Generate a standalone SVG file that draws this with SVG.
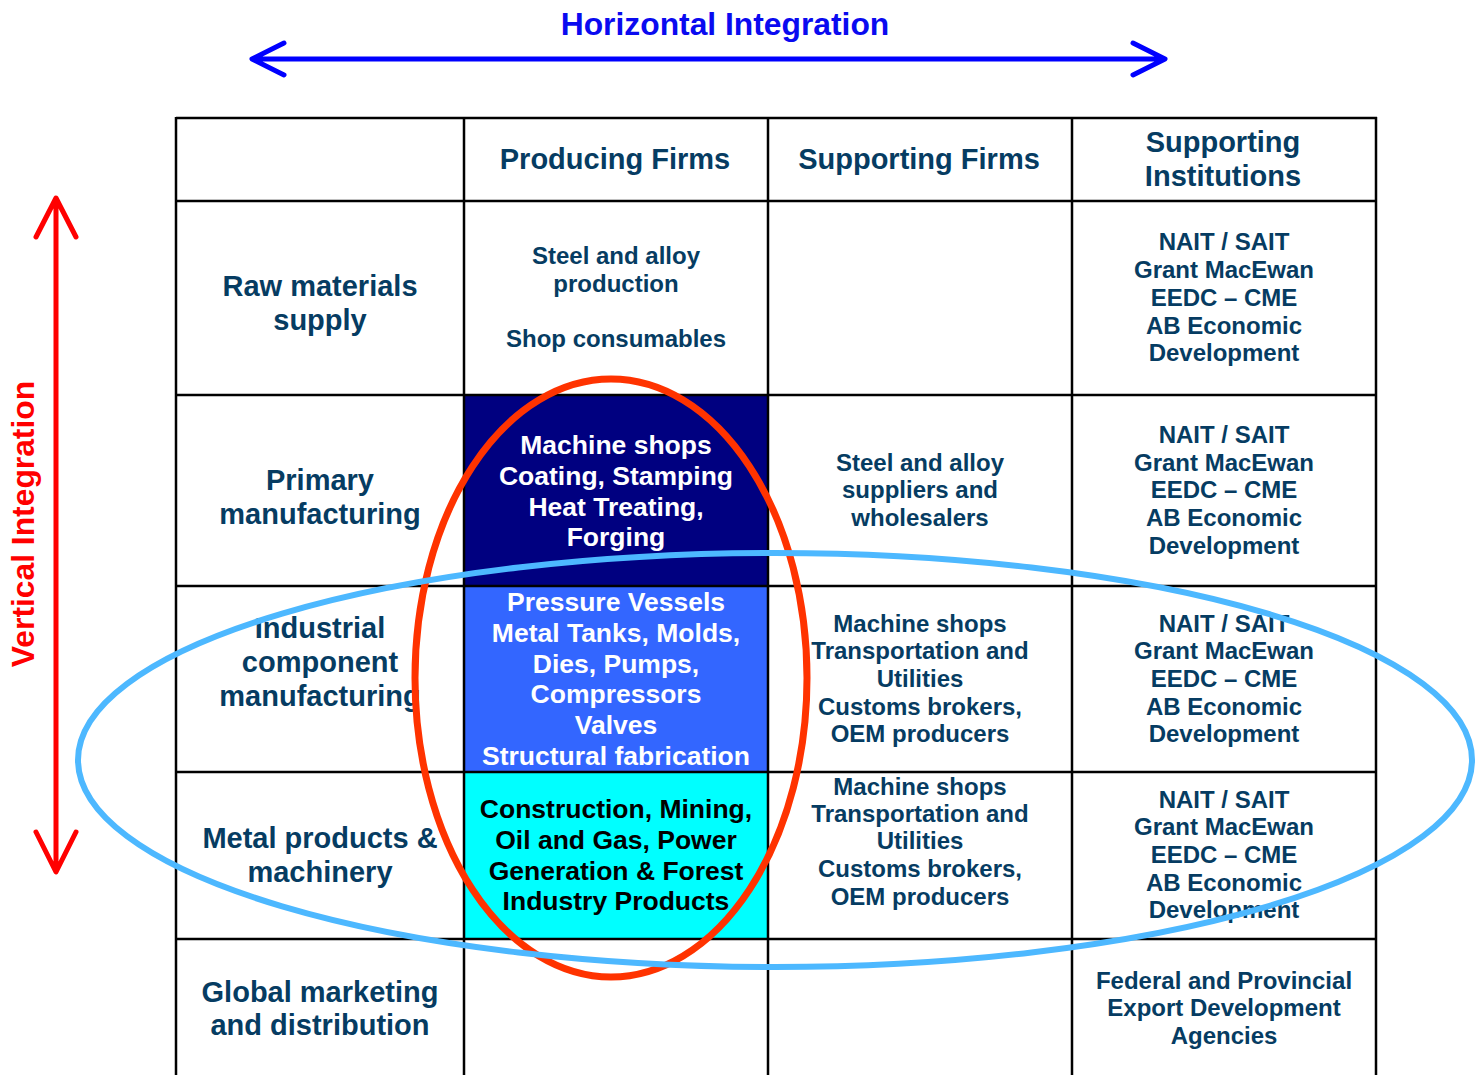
<svg xmlns="http://www.w3.org/2000/svg" width="1484" height="1075" viewBox="0 0 1484 1075">
<style>
text{font-family:"Liberation Sans",Arial,sans-serif;font-weight:bold;text-anchor:middle}
.hd{font-size:29px;fill:#063C62}
.rl{font-size:29px;fill:#063C62}
.ct{font-size:24px;fill:#063C62}
.wt{font-size:26.5px;fill:#FFFFFF}
.bk{font-size:26.5px;fill:#000000}
.grid line{stroke:#000;stroke-width:2.5}
</style>
<rect width="1484" height="1075" fill="#fff"/>
<g id="cell-fills">
<rect x="464" y="395" width="304" height="191" fill="#000080"/>
<rect x="464" y="586" width="304" height="186" fill="#3366FF"/>
<rect x="464" y="772" width="304" height="167" fill="#00FFFF"/>
</g>
<g id="grid" class="grid">
<line x1="176" y1="118" x2="1377" y2="118"/>
<line x1="176" y1="201" x2="1377" y2="201"/>
<line x1="176" y1="395" x2="1377" y2="395"/>
<line x1="176" y1="586" x2="1377" y2="586"/>
<line x1="176" y1="772" x2="1377" y2="772"/>
<line x1="176" y1="939" x2="1377" y2="939"/>
<line x1="176" y1="117" x2="176" y2="1075"/>
<line x1="464" y1="117" x2="464" y2="1075"/>
<line x1="768" y1="117" x2="768" y2="1075"/>
<line x1="1072" y1="117" x2="1072" y2="1075"/>
<line x1="1376" y1="117" x2="1376" y2="1075"/>
</g>
<g id="headers">
<text class="hd" x="615" y="169">Producing Firms</text>
<text class="hd" x="919" y="169">Supporting Firms</text>
<text class="hd" x="1223" y="152">Supporting</text>
<text class="hd" x="1223" y="186">Institutions</text>
</g>
<g id="row-labels">
<text class="rl" x="320" y="296">Raw materials</text>
<text class="rl" x="320" y="330">supply</text>
<text class="rl" x="320" y="490">Primary</text>
<text class="rl" x="320" y="524">manufacturing</text>
<text class="rl" x="320" y="638">Industrial</text>
<text class="rl" x="320" y="672">component</text>
<text class="rl" x="320" y="706">manufacturing</text>
<text class="rl" x="320" y="848">Metal products &amp;</text>
<text class="rl" x="320" y="882">machinery</text>
<text class="rl" x="320" y="1002">Global marketing</text>
<text class="rl" x="320" y="1035">and distribution</text>
</g>
<g id="producing-firms">
<text class="ct" x="616" y="264">Steel and alloy</text>
<text class="ct" x="616" y="292">production</text>
<text class="ct" x="616" y="347">Shop consumables</text>
<text class="wt" x="616" y="454">Machine shops</text>
<text class="wt" x="616" y="485">Coating, Stamping</text>
<text class="wt" x="616" y="516">Heat Treating,</text>
<text class="wt" x="616" y="546">Forging</text>
<text class="wt" x="616" y="611">Pressure Vessels</text>
<text class="wt" x="616" y="642">Metal Tanks, Molds,</text>
<text class="wt" x="616" y="673">Dies, Pumps,</text>
<text class="wt" x="616" y="703">Compressors</text>
<text class="wt" x="616" y="734">Valves</text>
<text class="wt" x="616" y="765">Structural fabrication</text>
<text class="bk" x="616" y="818">Construction, Mining,</text>
<text class="bk" x="616" y="849">Oil and Gas, Power</text>
<text class="bk" x="616" y="880">Generation &amp; Forest</text>
<text class="bk" x="616" y="910">Industry Products</text>
</g>
<g id="supporting-firms">
<text class="ct" x="920" y="471">Steel and alloy</text>
<text class="ct" x="920" y="498">suppliers and</text>
<text class="ct" x="920" y="526">wholesalers</text>
<text class="ct" x="920" y="632">Machine shops</text>
<text class="ct" x="920" y="659">Transportation and</text>
<text class="ct" x="920" y="687">Utilities</text>
<text class="ct" x="920" y="715">Customs brokers,</text>
<text class="ct" x="920" y="742">OEM producers</text>
<text class="ct" x="920" y="795">Machine shops</text>
<text class="ct" x="920" y="822">Transportation and</text>
<text class="ct" x="920" y="849">Utilities</text>
<text class="ct" x="920" y="877">Customs brokers,</text>
<text class="ct" x="920" y="905">OEM producers</text>
</g>
<g id="supporting-institutions">
<text class="ct" x="1224" y="250">NAIT / SAIT</text>
<text class="ct" x="1224" y="278">Grant MacEwan</text>
<text class="ct" x="1224" y="306">EEDC – CME</text>
<text class="ct" x="1224" y="334">AB Economic</text>
<text class="ct" x="1224" y="361">Development</text>
<text class="ct" x="1224" y="443">NAIT / SAIT</text>
<text class="ct" x="1224" y="471">Grant MacEwan</text>
<text class="ct" x="1224" y="498">EEDC – CME</text>
<text class="ct" x="1224" y="526">AB Economic</text>
<text class="ct" x="1224" y="554">Development</text>
<text class="ct" x="1224" y="632">NAIT / SAIT</text>
<text class="ct" x="1224" y="659">Grant MacEwan</text>
<text class="ct" x="1224" y="687">EEDC – CME</text>
<text class="ct" x="1224" y="715">AB Economic</text>
<text class="ct" x="1224" y="742">Development</text>
<text class="ct" x="1224" y="808">NAIT / SAIT</text>
<text class="ct" x="1224" y="835">Grant MacEwan</text>
<text class="ct" x="1224" y="863">EEDC – CME</text>
<text class="ct" x="1224" y="891">AB Economic</text>
<text class="ct" x="1224" y="918">Development</text>
<text class="ct" x="1224" y="989">Federal and Provincial</text>
<text class="ct" x="1224" y="1016">Export Development</text>
<text class="ct" x="1224" y="1044">Agencies</text>
</g>
<g id="horizontal-integration">
<text x="725" y="35" style="font-size:31.8px;fill:#0A0AF0">Horizontal Integration</text>
</g>
<g id="vertical-integration">
<text x="0" y="0" transform="translate(34,524) rotate(-90)" style="font-size:31.8px;fill:#FF0000">Vertical Integration</text>
</g>
<g id="connectors" fill="none" stroke-linecap="round" stroke-linejoin="round">
<path d="M254,59 H1164 M284,43 L252,59 L284,75 M1133,43 L1165,59 L1133,75" stroke="#0000FF" stroke-width="5"/>
<path d="M56,200 V871 M36,237 L56,198 L76,237 M36,832 L56,872 L76,832" stroke="#FF0000" stroke-width="5"/>
<ellipse cx="611" cy="678" rx="196" ry="299" stroke="#FF3300" stroke-width="7"/>
<ellipse cx="775" cy="760" rx="697" ry="207" stroke="#4DB8FF" stroke-width="6"/>
</g>
</svg>
